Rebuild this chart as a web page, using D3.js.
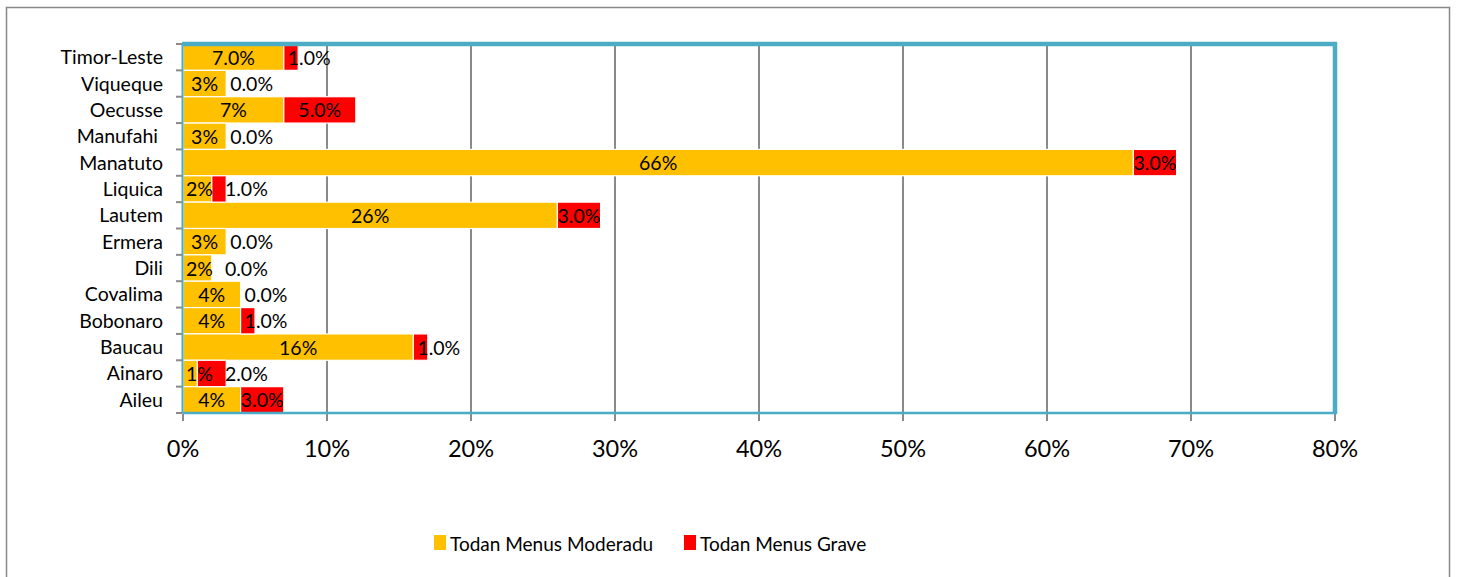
<!DOCTYPE html>
<html>
<head>
<meta charset="utf-8">
<script src="https://cdn.jsdelivr.net/npm/d3@7"></script>
<style>
  html, body { margin: 0; padding: 0; background: #fff; }
  svg { display: block; }
  text { font-family: Lato, "Open Sans", sans-serif; fill: #000; }
</style>
</head>
<body>
<svg id="chart" width="1457" height="577"></svg>
<script>
// ---- data ----
const categories = ["Timor-Leste", "Viqueque", "Oecusse", "Manufahi ", "Manatuto", "Liquica", "Lautem",
                    "Ermera", "Dili", "Covalima", "Bobonaro", "Baucau", "Ainaro", "Aileu"];
const moderadu = [7, 3, 7, 3, 66, 2, 26, 3, 2, 4, 4, 16, 1, 4];
const grave    = [1, 0, 5, 0, 3, 1, 3, 0, 0, 0, 1, 1, 2, 3];
const moderaduLabels = ["7.0%", "3%", "7%", "3%", "66%", "2%", "26%", "3%", "2%", "4%", "4%", "16%", "1%", "4%"];
const graveLabels    = ["1.0%", "0.0%", "5.0%", "0.0%", "3.0%", "1.0%", "3.0%", "0.0%", "0.0%", "0.0%", "1.0%", "1.0%", "2.0%", "3.0%"];
const xTicks = [0, 10, 20, 30, 40, 50, 60, 70, 80];
const seriesNames = ["Todan Menus Moderadu", "Todan Menus Grave"];
const seriesColors = ["#FFC000", "#FF0000"];

// ---- layout ----
const svg = d3.select("#chart");
const plot = { left: 183, right: 1335, top: 44, bottom: 413 };

// outer chart border
svg.append("rect").attr("x", 6.5).attr("y", 7.5).attr("width", 1443).attr("height", 580)
  .attr("fill", "#fff").attr("stroke", "#898989").attr("stroke-width", 1.5);

const x = d3.scaleLinear().domain([0, 80]).range([plot.left, plot.right]);
const y = d3.scaleBand().domain(categories).range([plot.top, plot.bottom]).padding(0);

// gridlines
svg.append("g").selectAll("line").data(xTicks.slice(1, -1)).join("line")
  .attr("x1", d => x(d)).attr("x2", d => x(d))
  .attr("y1", plot.top).attr("y2", plot.bottom + 8)
  .attr("stroke", "#8a8a8a").attr("stroke-width", 2);

// bottom tick marks for ends
svg.append("g").selectAll("line").data([0, 80]).join("line")
  .attr("x1", d => x(d)).attr("x2", d => x(d))
  .attr("y1", plot.bottom).attr("y2", plot.bottom + 8)
  .attr("stroke", "#8a8a8a").attr("stroke-width", 2);

// bars
const rows = categories.map((c, i) => ({ c, i, m: moderadu[i], g: grave[i] }));
const gBars = svg.append("g");
gBars.selectAll("rect.m").data(rows).join("rect").attr("class", "m")
  .attr("x", d => x(0)).attr("y", d => y(d.c))
  .attr("width", d => x(d.m) - x(0)).attr("height", y.bandwidth())
  .attr("fill", seriesColors[0]).attr("stroke", "#fff").attr("stroke-width", 1.2);
gBars.selectAll("rect.g").data(rows.filter(d => d.g > 0)).join("rect").attr("class", "g")
  .attr("x", d => x(d.m)).attr("y", d => y(d.c))
  .attr("width", d => x(d.m + d.g) - x(d.m)).attr("height", y.bandwidth())
  .attr("fill", seriesColors[1]).attr("stroke", "#fff").attr("stroke-width", 1.2);

// plot area border (teal)
const teal = "#4BACC6";
svg.append("line").attr("x1", plot.left - 1).attr("x2", plot.right + 2).attr("y1", plot.top).attr("y2", plot.top)
  .attr("stroke", teal).attr("stroke-width", 4.5);
svg.append("line").attr("x1", plot.right).attr("x2", plot.right).attr("y1", plot.top - 2).attr("y2", plot.bottom + 1)
  .attr("stroke", teal).attr("stroke-width", 4.5);
svg.append("line").attr("x1", plot.left).attr("x2", plot.right + 2).attr("y1", plot.bottom).attr("y2", plot.bottom)
  .attr("stroke", teal).attr("stroke-width", 2.5);
svg.append("line").attr("x1", plot.left - 0.5).attr("x2", plot.left - 0.5).attr("y1", plot.top).attr("y2", plot.bottom)
  .attr("stroke", teal).attr("stroke-width", 2);

// y-axis tick marks at band boundaries
const boundaries = categories.map(c => y(c)).concat([plot.bottom]);
svg.append("g").selectAll("line").data(boundaries).join("line")
  .attr("x1", plot.left - 7).attr("x2", plot.left - 1)
  .attr("y1", d => d).attr("y2", d => d)
  .attr("stroke", "#8a8a8a").attr("stroke-width", 2);

// category labels
svg.append("g").selectAll("text").data(categories).join("text")
  .attr("x", 163).attr("y", d => y(d) + y.bandwidth() / 2 + 7)
  .attr("text-anchor", "end").style("white-space", "pre")
  .attr("font-size", 19.5).text(d => d);

// x tick labels
svg.append("g").selectAll("text").data(xTicks).join("text")
  .attr("x", d => x(d)).attr("y", 457)
  .attr("text-anchor", "middle").attr("font-size", 23.5)
  .text(d => d + "%");

// data labels
const gLab = svg.append("g");
rows.forEach(d => {
  const cy = y(d.c) + y.bandwidth() / 2 + 7.5;
  const x0 = x(0), x1 = x(d.m), x2 = x(d.m + d.g);
  const t1 = gLab.append("text").attr("font-size", 19.5).text(moderaduLabels[d.i]);
  const w1 = t1.node().getComputedTextLength();
  const left1 = Math.max((x0 + x1) / 2 - w1 / 2, x0 + 3);
  t1.attr("x", left1).attr("y", cy);
  const right1 = left1 + w1;

  const t2 = gLab.append("text").attr("font-size", 19.5).text(graveLabels[d.i]);
  const w2 = t2.node().getComputedTextLength();
  let left2;
  if (x2 - x1 >= w2) left2 = (x1 + x2) / 2 - w2 / 2;
  else left2 = Math.max(x1 + 4, right1 + 12);
  t2.attr("x", left2).attr("y", cy);
});

// legend
const legend = svg.append("g");
const legendItems = [
  { name: seriesNames[0], color: seriesColors[0], x: 434 },
  { name: seriesNames[1], color: seriesColors[1], x: 684 }
];
legendItems.forEach(it => {
  legend.append("rect").attr("x", it.x).attr("y", 535).attr("width", 12).attr("height", 15).attr("fill", it.color);
  legend.append("text").attr("x", it.x + 16).attr("y", 551).attr("font-size", 19).text(it.name);
});
</script>
</body>
</html>
